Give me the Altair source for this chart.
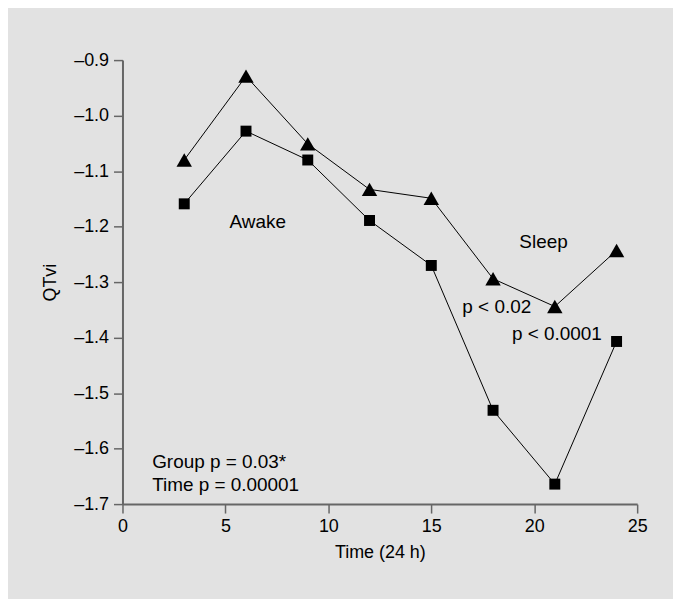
import altair as alt
import pandas as pd

hours = [3, 6, 9, 12, 15, 18, 21, 24]
triangle_vals = [-1.08, -0.929, -1.051, -1.133, -1.149, -1.294, -1.344, -1.243]
square_vals = [-1.159, -1.028, -1.080, -1.189, -1.270, -1.531, -1.664, -1.407]

ann_text = ["Awake", "Sleep", "p < 0.02", "p < 0.0001", "Group p = 0.03*", "Time p = 0.00001"]
ann_x = [6.57, 20.45, 18.18, 21.1, 1.44, 1.44]
ann_y = [-1.192, -1.228, -1.345, -1.393, -1.624, -1.665]
ann_align = ["center", "center", "center", "center", "left", "left"]

rows = []
for h, v in zip(hours, triangle_vals):
    rows.append({"time": h, "qtvi": v, "grp": "tri"})
for h, v in zip(hours, square_vals):
    rows.append({"time": h, "qtvi": v, "grp": "sq"})
df = pd.DataFrame(rows)

ann = pd.DataFrame({"x": ann_x, "y": ann_y, "label": ann_text, "align": ann_align})

FONT = "Liberation Sans"

xenc = alt.X("time:Q", scale=alt.Scale(domain=[0, 25], nice=False, zero=False),
             axis=alt.Axis(title="Time (24 h)", values=[0, 5, 10, 15, 20, 25], grid=False,
                           tickSize=9, labelPadding=5, titlePadding=8, labelFlush=False))
yenc = alt.Y("qtvi:Q", scale=alt.Scale(domain=[-1.7, -0.9], nice=False, zero=False),
             axis=alt.Axis(title="QTvi", values=[-1.7, -1.6, -1.5, -1.4, -1.3, -1.2, -1.1, -1.0, -0.9],
                           labelExpr="'–' + format(abs(datum.value), '.1f')",
                           grid=False, tickSize=9, labelPadding=5, titlePadding=14, labelFlush=False))

lines = alt.Chart(df).mark_line(color="black", strokeWidth=1).encode(
    x=xenc, y=yenc, detail="grp:N")

points = alt.Chart(df).mark_point(filled=True, opacity=1, color="black").encode(
    x="time:Q", y="qtvi:Q",
    shape=alt.Shape("grp:N", scale=alt.Scale(domain=["tri", "sq"], range=["triangle-up", "square"]), legend=None),
    size=alt.Size("grp:N", scale=alt.Scale(domain=["tri", "sq"], range=[240, 121]), legend=None),
)

texts_c = alt.Chart(ann[ann["align"] == "center"]).mark_text(
    font=FONT, fontSize=19, color="black", align="center", baseline="middle").encode(
    x="x:Q", y="y:Q", text="label:N")
texts_l = alt.Chart(ann[ann["align"] == "left"]).mark_text(
    font=FONT, fontSize=19, color="black", align="left", baseline="middle").encode(
    x="x:Q", y="y:Q", text="label:N")

chart = alt.layer(lines, points, texts_c, texts_l).properties(
    width=517, height=446,
    background="#e2e2e2",
    padding={"left": 115, "top": 51, "right": 36, "bottom": 94},
    autosize=alt.AutoSizeParams(type="none"),
).configure_view(stroke=None).configure_axis(
    domainColor="#666666", domainWidth=2, tickColor="#666666", tickWidth=1.5,
    labelFont=FONT, labelFontSize=18, labelColor="black",
    titleFont=FONT, titleFontSize=18, titleColor="black", titleFontWeight="normal",
)

chart.save("out.html", embed_options={"renderer": "svg", "actions": False})
